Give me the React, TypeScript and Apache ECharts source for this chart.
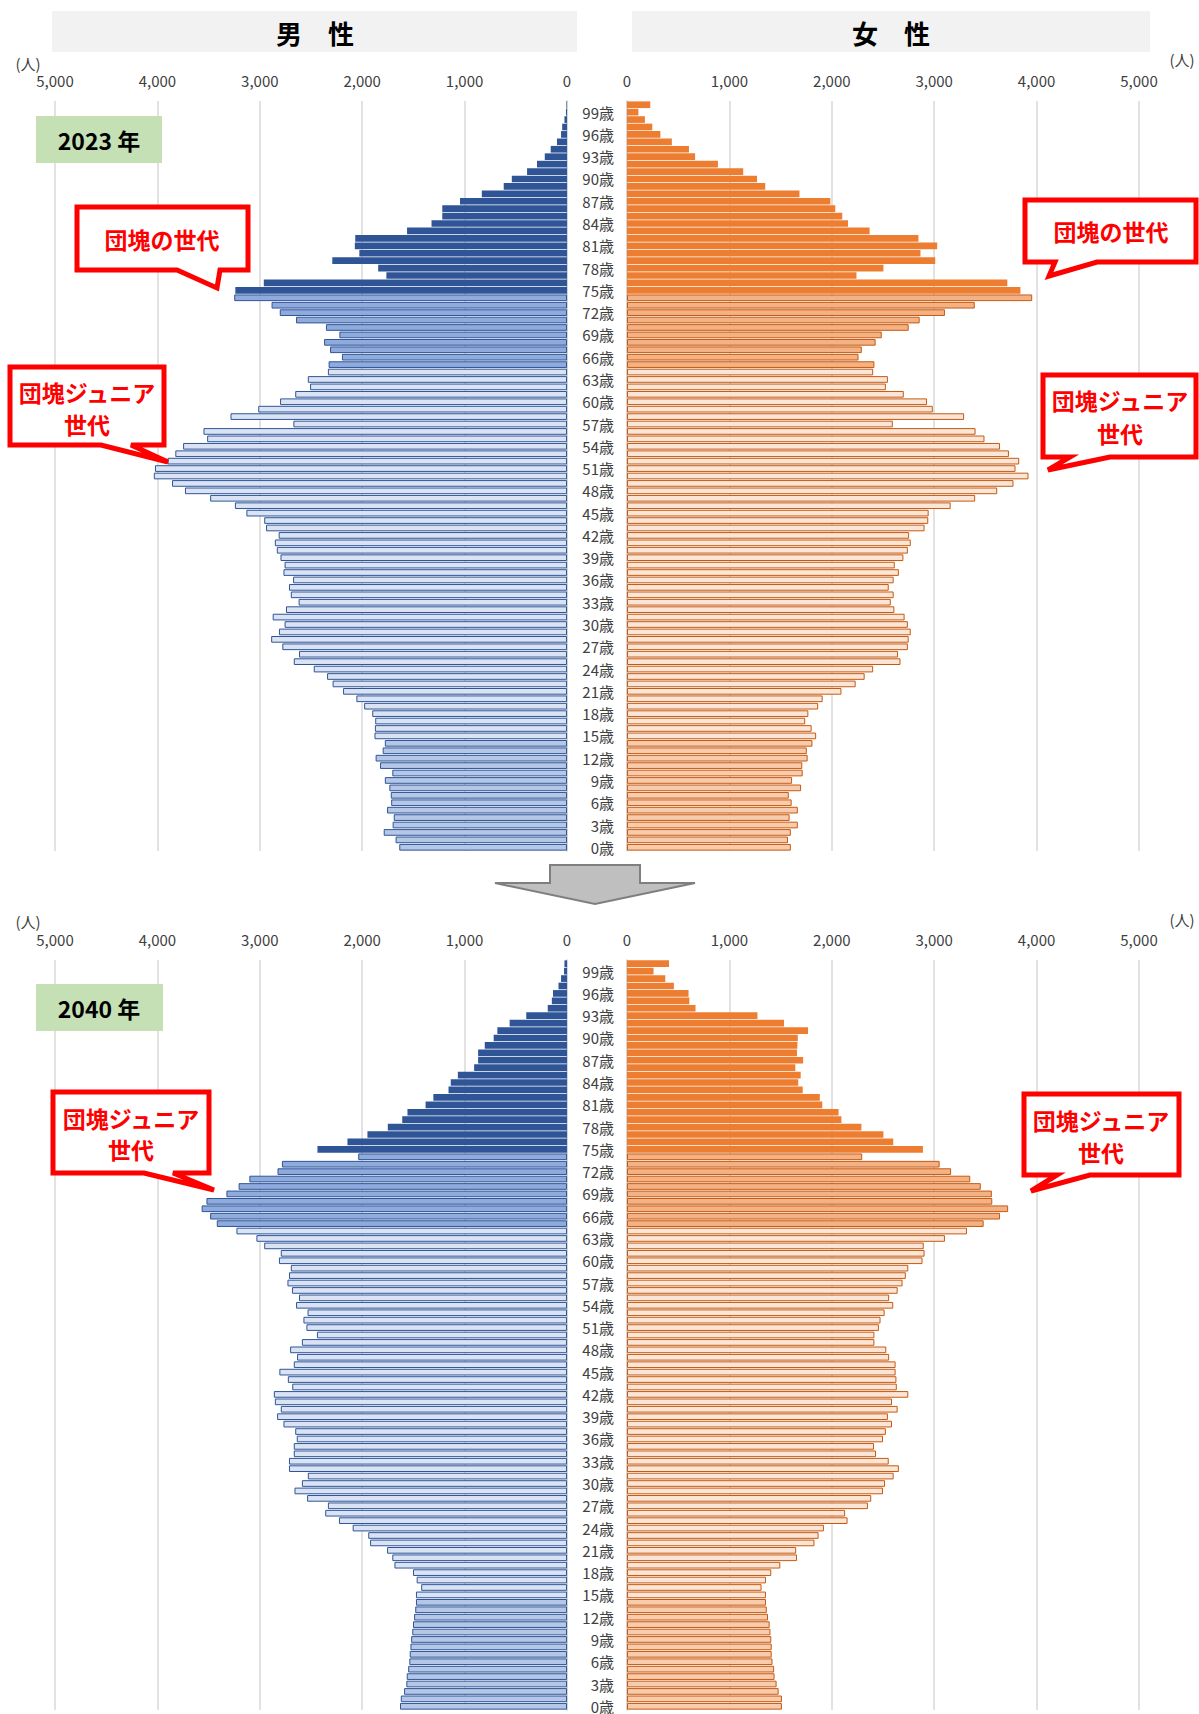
import React, { useEffect, useRef } from 'react';
import * as echarts from 'echarts';

// ages 0..100 (index = age)
const ageCategories: string[] = Array.from({ length: 101 }, (_, i) => String(i));

const xTicks = [0, 1000, 2000, 3000, 4000, 5000];

const male2023 = [
  1638, 1674, 1790, 1703, 1692, 1757, 1717, 1721, 1735, 1779,
  1706, 1826, 1869, 1800, 1779, 1880, 1876, 1873, 1902, 1981,
  2057, 2187, 2289, 2343, 2473, 2668, 2617, 2780, 2889, 2813,
  2758, 2874, 2744, 2621, 2697, 2715, 2675, 2769, 2758, 2798,
  2834, 2853, 2816, 2939, 2957, 3131, 3243, 3485, 3731, 3857,
  4035, 4024, 3901, 3825, 3749, 3514, 3550, 2672, 3286, 3015,
  2802, 2654, 2509, 2531, 2335, 2328, 2198, 2314, 2372, 2223,
  2354, 2646, 2805, 2885, 3250, 3239, 2961, 1764, 1844, 2292,
  2028, 2072, 2068, 1562, 1323, 1218, 1218, 1045, 832, 618,
  539, 390, 293, 217, 159, 98, 58, 47, 25, 10,
  5,
];

const female2023 = [
  1600, 1572, 1600, 1668, 1588, 1668, 1608, 1580, 1700, 1612,
  1716, 1712, 1764, 1756, 1811, 1847, 1803, 1740, 1771, 1867,
  1911, 2094, 2233, 2321, 2404, 2671, 2647, 2743, 2751, 2771,
  2743, 2711, 2611, 2576, 2604, 2556, 2604, 2655, 2615, 2699,
  2743, 2771, 2755, 2906, 2942, 2946, 3161, 3400, 3615, 3774,
  3921, 3794, 3830, 3730, 3643, 3491, 3404, 2596, 3292, 2986,
  2930, 2703, 2528, 2548, 2404, 2416, 2261, 2293, 2428, 2488,
  2751, 2858, 3105, 3396, 3957, 3842, 3714, 2241, 2504, 3010,
  2866, 3029, 2846, 2369, 2158, 2102, 2034, 1986, 1684, 1350,
  1270, 1135, 888, 665, 605, 438, 326, 247, 175, 111,
  227,
];

const male2040 = [
  1631, 1623, 1591, 1569, 1565, 1551, 1540, 1536, 1529, 1522,
  1511, 1504, 1493, 1482, 1475, 1475, 1424, 1468, 1504, 1685,
  1706, 1757, 1923, 1941, 2093, 2227, 2361, 2335, 2538, 2661,
  2589, 2531, 2715, 2715, 2668, 2668, 2639, 2654, 2769, 2831,
  2795, 2853, 2863, 2683, 2726, 2809, 2668, 2636, 2704, 2589,
  2442, 2545, 2574, 2534, 2646, 2617, 2686, 2730, 2715, 2697,
  2813, 2795, 2957, 3033, 3228, 3420, 3485, 3568, 3521, 3326,
  3207, 3102, 2827, 2784, 2039, 2437, 2144, 1949, 1750, 1609,
  1558, 1381, 1305, 1157, 1135, 1066, 907, 868, 868, 803,
  716, 680, 560, 398, 188, 148, 137, 83, 58, 29,
  25,
];

const female2040 = [
  1513, 1513, 1481, 1461, 1441, 1437, 1421, 1413, 1413, 1409,
  1401, 1393, 1377, 1365, 1357, 1357, 1314, 1357, 1409, 1497,
  1660, 1652, 1831, 1871, 1923, 2154, 2130, 2353, 2385, 2500,
  2520, 2604, 2655, 2556, 2432, 2412, 2500, 2528, 2588, 2548,
  2643, 2588, 2747, 2635, 2631, 2623, 2623, 2560, 2532, 2416,
  2416, 2460, 2476, 2516, 2600, 2560, 2643, 2691, 2723, 2747,
  2886, 2906, 2898, 3105, 3320, 3483, 3643, 3722, 3567, 3563,
  3455, 3352, 3165, 3053, 2297, 2890, 2600, 2504, 2289, 2094,
  2066, 1907, 1883, 1716, 1672, 1696, 1644, 1720, 1660, 1664,
  1668, 1768, 1533, 1274, 669, 609, 601, 458, 374, 259,
  410,
];

const FONT = '"Noto Sans CJK JP", "Noto Sans", sans-serif';

const MALE_COLORS = { old: '#2F5597', senior: '#8FAADC', work: '#DAE3F3', child: '#B4C7E7', border: '#2F5597' };
const FEMALE_COLORS = { old: '#ED7D31', senior: '#F4B183', work: '#FBE5D6', child: '#F8CBAD', border: '#C55A11' };

function groupOf(age: number) {
  if (age >= 75) return 'old';
  if (age >= 65) return 'senior';
  if (age >= 15) return 'work';
  return 'child';
}

function barData(values: number[], pal: any) {
  return values.map((v, age) => {
    const g = groupOf(age);
    const fill = pal[g];
    return {
      value: v,
      itemStyle: {
        color: fill,
        borderColor: g === 'old' ? fill : pal.border,
        borderWidth: g === 'old' ? 0 : 1,
      },
    };
  });
}

function callout(x1: number, y1: number, x2: number, y2: number, bx1: number, bx2: number, tx: number, ty: number, lines: string[], cx: number, cys: number[]) {
  const els: any[] = [
    {
      type: 'polygon',
      shape: { points: [[x1, y1], [x2, y1], [x2, y2], [bx2, y2], [tx, ty], [bx1, y2], [x1, y2]] },
      style: { fill: '#ffffff', stroke: '#FF0000', lineWidth: 5, lineJoin: 'miter' },
      z: 10,
    },
  ];
  lines.forEach((t, i) => {
    els.push({
      type: 'text',
      x: cx,
      y: cys[i],
      style: {
        text: t, fill: '#FF0000', font: `bold 23px ${FONT}`,
        textAlign: 'center', textVerticalAlign: 'middle', align: 'center', verticalAlign: 'middle',
      },
      z: 11,
    });
  });
  return els;
}

function txt(x: number, y: number, text: string, font: string, fill = '#000', align = 'center') {
  return {
    type: 'text', x, y, z: 12,
    style: { text, fill, font, textAlign: align, textVerticalAlign: 'middle', align, verticalAlign: 'middle' },
  };
}

export default function App() {
  const ref = useRef<HTMLDivElement>(null);

  useEffect(() => {
    document.body.style.margin = '0';
    if (!ref.current) return;
    const chart = echarts.init(ref.current, null, { renderer: 'svg' });

    const tops = [101, 960];
    const H = 750;
    const grids: any[] = [];
    const xAxes: any[] = [];
    const yAxes: any[] = [];
    const series: any[] = [];
    const datasets = [
      [male2023, female2023],
      [male2040, female2040],
    ];

    tops.forEach((top, p) => {
      const mi = p * 2;
      const fi = p * 2 + 1;
      grids.push({ left: 55, top, width: 512, height: H });
      grids.push({ left: 627, top, width: 512, height: H });
      [mi, fi].forEach((gi) => {
        const isMale = gi === mi;
        xAxes.push({
          type: 'value', gridIndex: gi, min: xTicks[0], max: xTicks[xTicks.length - 1], interval: 1000,
          inverse: isMale, position: 'top',
          axisLine: { show: false }, axisTick: { show: false },
          axisLabel: {
            color: '#404040', fontSize: 15, fontFamily: FONT, margin: 13,
            formatter: (v: number) => v.toLocaleString('en-US'),
          },
          splitLine: { show: true, lineStyle: { color: '#D9D9D9', width: 1.5 } },
        });
        yAxes.push({
          type: 'category', gridIndex: gi, data: ageCategories,
          position: isMale ? 'right' : 'left',
          axisLine: { show: true, onZero: false, lineStyle: { color: '#D0D0D0', width: 1.5 } },
          axisTick: { show: false },
          axisLabel: isMale
            ? { show: false }
            : {
                show: true, color: '#404040', fontSize: 15, fontFamily: FONT, margin: 13,
                padding: p === 0 ? [5, 0, 0, 0] : [2, 0, 0, 0],
                interval: (_i: number, val: string) => Number(val) % 3 === 0,
                formatter: (v: string) => `${v}歳`,
              },
        });
      });
      series.push({
        type: 'bar', xAxisIndex: mi, yAxisIndex: mi,
        data: barData(datasets[p][0], MALE_COLORS), barCategoryGap: '10%',
      });
      series.push({
        type: 'bar', xAxisIndex: fi, yAxisIndex: fi,
        data: barData(datasets[p][1], FEMALE_COLORS), barCategoryGap: '10%',
      });
    });

    const unitFont = `15px ${FONT}`;
    const graphics: any[] = [
      // headers
      { type: 'rect', shape: { x: 52, y: 11, width: 525, height: 41 }, style: { fill: '#F2F2F2' }, z: 5 },
      { type: 'rect', shape: { x: 632, y: 11, width: 518, height: 41 }, style: { fill: '#F2F2F2' }, z: 5 },
      txt(315, 32, '男　性', `bold 26px ${FONT}`, '#000'),
      txt(891, 32, '女　性', `bold 26px ${FONT}`, '#000'),
      // units
      txt(28, 63, '(人)', unitFont, '#404040'),
      txt(1182, 59, '(人)', unitFont, '#404040'),
      txt(28, 921, '(人)', unitFont, '#404040'),
      txt(1182, 919, '(人)', unitFont, '#404040'),
      // year boxes
      { type: 'rect', shape: { x: 36, y: 116, width: 126, height: 47 }, style: { fill: '#C5E0B4' }, z: 5 },
      txt(99, 140, '2023 年', `bold 23px ${FONT}`, '#000'),
      { type: 'rect', shape: { x: 36, y: 984, width: 127, height: 47 }, style: { fill: '#C5E0B4' }, z: 5 },
      txt(99, 1008, '2040 年', `bold 23px ${FONT}`, '#000'),
      // arrow
      {
        type: 'polygon', z: 5,
        shape: { points: [[550, 865], [640, 865], [640, 883], [695, 883], [595, 904], [495, 883], [550, 883]] },
        style: { fill: '#BFBFBF', stroke: '#7F7F7F', lineWidth: 2 },
      },
      ...callout(77, 207, 248, 270, 177, 220, 217, 288, ['団塊の世代'], 162, [239]),
      ...callout(10, 367, 164, 445, 101, 131, 168, 462, ['団塊ジュニア', '世代'], 87, [392, 424]),
      ...callout(1025, 200, 1196, 262, 1055, 1097, 1049, 276, ['団塊の世代'], 1111, [231]),
      ...callout(1043, 375, 1196, 457, 1070, 1110, 1048, 470, ['団塊ジュニア', '世代'], 1120, [400, 433]),
      ...callout(53, 1092, 209, 1173, 144, 173, 214, 1190, ['団塊ジュニア', '世代'], 131, [1118, 1149]),
      ...callout(1024, 1094, 1179, 1175, 1057, 1090, 1031, 1191, ['団塊ジュニア', '世代'], 1101, [1120, 1152]),
    ];

    chart.setOption({
      animation: false,
      backgroundColor: '#ffffff',
      textStyle: { fontFamily: FONT },
      grid: grids,
      xAxis: xAxes,
      yAxis: yAxes,
      series,
      graphic: { elements: graphics },
    });

    return () => chart.dispose();
  }, []);

  return (
    <div
      ref={ref}
      style={{ position: 'absolute', left: 0, top: 0, width: 1199, height: 1714 }}
    />
  );
}
